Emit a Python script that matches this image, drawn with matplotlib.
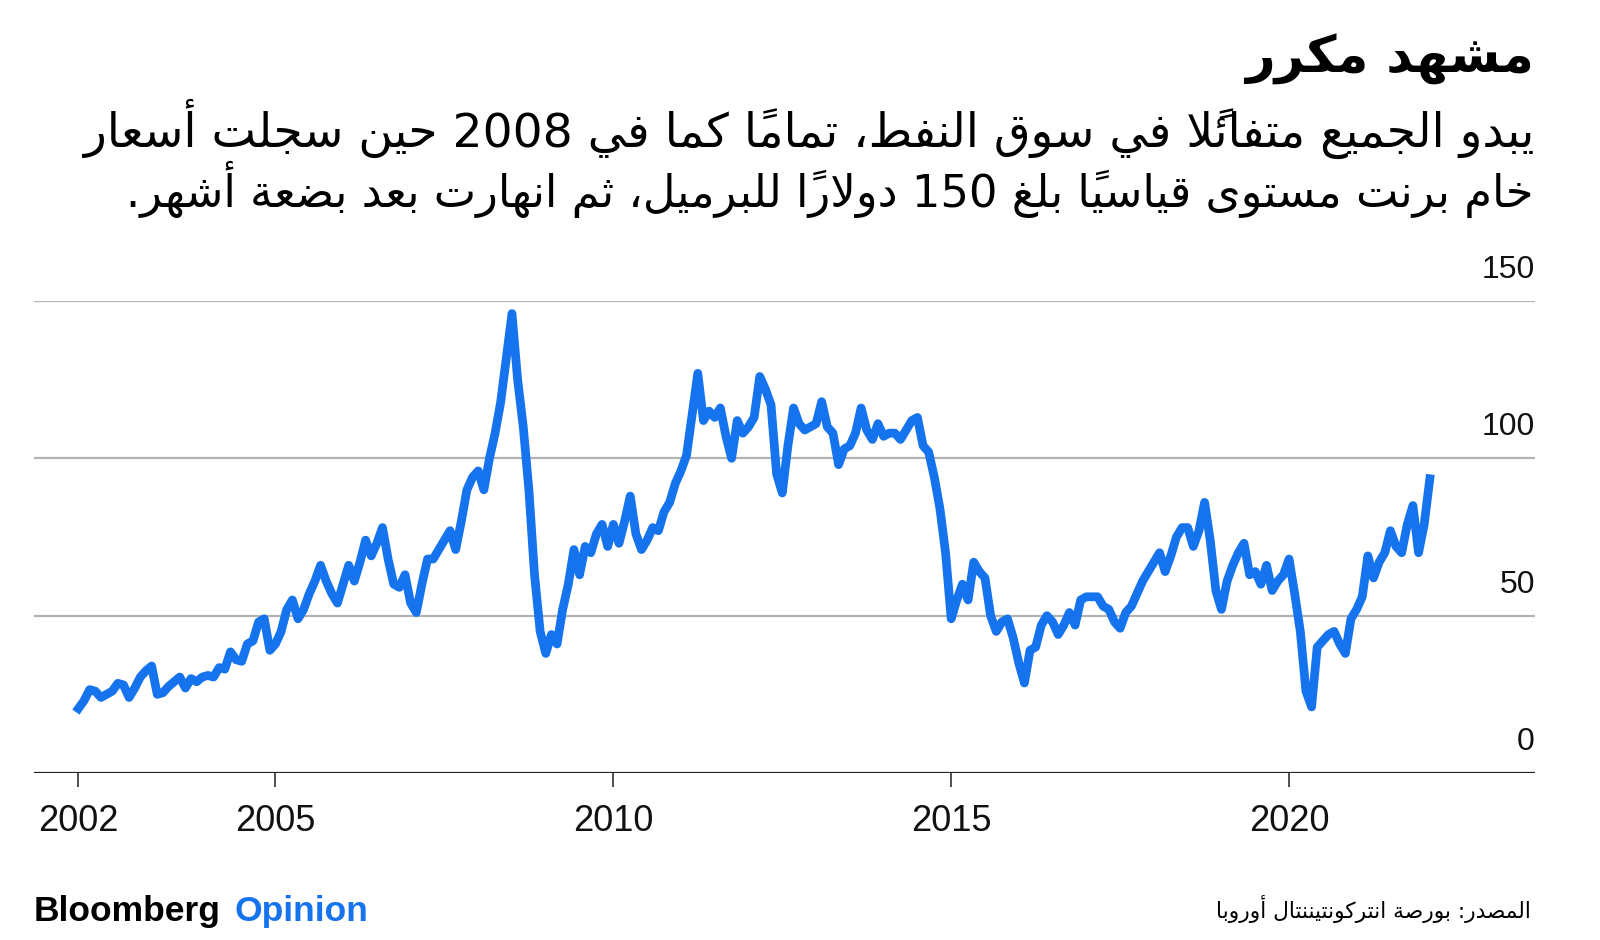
import numpy as np
import matplotlib.pyplot as plt

# Brent crude, USD per barrel, one reading per month, Feb 2002 - Feb 2022
first_month = 2002 + 1 / 12
brent = [
    20.5, 23, 26.5, 26, 24, 25, 26, 28.5, 28, 24, 27,            # 2002 (Feb-Dec)
    30.5, 32.5, 34, 25, 25.5, 27.5, 29, 30.5, 27, 30, 29, 30.5,  # 2003
    31, 30.5, 33.5, 33, 38.5, 36, 35.5, 41, 42, 48, 49, 39,      # 2004
    41, 45, 52, 55, 49, 52, 57, 61, 66, 61, 57, 54,              # 2005
    60, 66, 61, 67, 74, 69, 73, 78, 68, 60, 59, 63,              # 2006
    54, 51, 60, 68, 68, 71, 74, 77, 71, 80, 90, 94,              # 2007
    96, 90, 100, 108, 118, 132, 146, 125, 110, 90, 63, 45,       # 2008
    38, 44, 41, 52, 60, 71, 63, 72, 70, 76, 79, 72,              # 2009
    79, 73, 80, 88, 76, 71, 74, 78, 77, 83, 86, 92,              # 2010
    96, 101, 114, 127, 112, 115, 113, 116, 107, 100, 112, 108,   # 2011
    110, 113, 126, 122, 117, 95, 89, 104, 116, 111, 109, 110,    # 2012
    111, 118, 110, 108, 98, 103, 104, 108, 116, 109, 106, 111,   # 2013
    107, 108, 108, 106, 109, 112, 113, 104, 102, 94, 84, 70,     # 2014
    49, 55, 60, 55, 67, 64, 62, 50, 45, 48, 49, 43,              # 2015
    35, 28.6, 39, 40, 47, 50, 48, 44, 47, 51, 47, 55,            # 2016
    56, 56, 56, 53, 52, 48, 46, 51, 53, 57, 61, 64,              # 2017
    67, 70, 64, 69, 75, 78, 78, 72, 77, 86, 74, 58,              # 2018
    52, 61, 66, 70, 73, 63, 64, 60, 66, 58, 61, 63,              # 2019
    68, 57, 45, 26, 21, 40, 42, 44, 45, 41, 38, 49,              # 2020
    52, 56, 69, 62, 67, 70, 77, 72, 70, 79, 85, 70,              # 2021
    79, 93.5,                                                    # 2022 (Jan-Feb)
]

year_ticks = [first_month, 2005, 2010, 2015, 2020]
year_labels = ["2002", "2005", "2010", "2015", "2020"]
y_ticks = [0, 50, 100, 150]
y_labels = ["0", "50", "100", "150"]

title = "مشهد مكرر"
subtitle_1 = "يبدو الجميع متفائلاً في سوق النفط، تماماً كما في 2008 حين سجلت أسعار"
subtitle_2 = "خام برنت مستوى قياسياً بلغ 150 دولاراً للبرميل، ثم انهارت بعد بضعة أشهر."
source = "المصدر: بورصة انتركونتيننتال أوروبا"

BLUE = "#1673ee"

# --- minimal Arabic shaping (matplotlib has no complex text layout) ---
AR_LETTERS = "ءآأؤإئابةتثجحخدذرزسشصضطظعغفقكلمنهوىي"
AR_NFORMS = [1, 2, 2, 2, 2, 4, 2, 4, 2, 4, 4, 4, 4, 4, 2, 2, 2, 2,
             4, 4, 4, 4, 4, 4, 4, 4, 4, 4, 4, 4, 4, 4, 4, 2, 2, 4]
LAM_ALEF = {"آ": 0xFEF5, "أ": 0xFEF7, "إ": 0xFEF9, "ا": 0xFEFB}

forms = {}
code = 0xFE80
for ch, k in zip(AR_LETTERS, AR_NFORMS):
    forms[ch] = (code, k)
    code += k


def ar(text):
    clusters = []
    for ch in text:
        if "\u064b" <= ch <= "\u0652" and clusters:
            clusters[-1][1] += ch
        else:
            clusters.append([ch, ""])
    merged = []
    for base, marks in clusters:
        if base in LAM_ALEF and merged and merged[-1][0] == "ل" and not merged[-1][1]:
            merged[-1] = ["LA" + base, marks]
        else:
            merged.append([base, marks])

    def dual(b):
        return b in forms and forms[b][1] == 4

    def joins(b):
        return (b in forms and forms[b][1] > 1) or b.startswith("LA")

    glyphs = []
    for i, (b, marks) in enumerate(merged):
        prev = merged[i - 1][0] if i > 0 else ""
        nxt = merged[i + 1][0] if i + 1 < len(merged) else ""
        jp = dual(prev) and joins(b)
        jn = dual(b) and joins(nxt)
        if b.startswith("LA"):
            g = chr(LAM_ALEF[b[2]] + (1 if jp else 0))
        elif b in forms:
            start, k = forms[b]
            if k == 1:
                g = chr(start)
            elif k == 2:
                g = chr(start + (1 if jp else 0))
            else:
                g = chr(start + (3 if jp and jn else 1 if jp else 2 if jn else 0))
        else:
            g = b
        glyphs.append(g + marks)

    tokens = []
    for g in glyphs:
        if g.isdigit() and tokens and tokens[-1].isdigit():
            tokens[-1] += g
        else:
            tokens.append(g)
    return "".join(reversed(tokens))


W, H = 1600, 940
fig = plt.figure(figsize=(W / 100, H / 100), dpi=100)
fig.patch.set_facecolor("white")

ax = fig.add_axes([34 / W, 1 - 773 / H, (1535 - 34) / W, (773 - 301) / H])
x = first_month + np.arange(len(brent)) / 12
ax.plot(x, brent, color=BLUE, lw=6.3, solid_joinstyle="round", zorder=3)

ax.set_ylim(0, 150)
ax.set_xlim(2001.426, 2023.64)
for v in y_ticks[1:]:
    ax.axhline(v, color="#b3b3b3", lw=1.6, zorder=1)
ax.axhline(0, color="#222222", lw=1.6, zorder=2)
for s in ax.spines.values():
    s.set_visible(False)

ax.set_yticks([])
ax.set_xticks(year_ticks)
ax.set_xticklabels(year_labels, fontsize=26, family="Liberation Sans", color="#111111")
ax.tick_params(axis="x", length=10, width=1.2, color="#333333", pad=12)

for v, lab in zip(y_ticks, y_labels):
    ax.annotate(lab, xy=(1, v), xycoords=("axes fraction", "data"),
                xytext=(0, 16.5), textcoords="offset points", ha="right", va="baseline",
                fontsize=23, family="Liberation Sans", color="#111111")

ar_font = ["DejaVu Sans"]
fig.text(1534 / W, 1 - 59 / H, ar(title), ha="right", va="center",
         fontsize=37, fontweight="bold", family=ar_font)
fig.text(1534 / W, 1 - 129 / H, ar(subtitle_1), ha="right", va="center",
         fontsize=34, family=ar_font)
fig.text(1534 / W, 1 - 189 / H, ar(subtitle_2), ha="right", va="center",
         fontsize=32.3, family=ar_font)
fig.text(1531 / W, 1 - 909 / H, ar(source), ha="right", va="center",
         fontsize=15.7, family=ar_font)

fig.text(34 / W, 1 - 911 / H, "Bloomberg", ha="left", va="center",
         fontsize=25.5, fontweight="bold", family="Liberation Sans", color="black")
fig.text(235 / W, 1 - 911 / H, "Opinion", ha="left", va="center",
         fontsize=25.5, fontweight="bold", family="Liberation Sans", color=BLUE)

fig.savefig("out.png", dpi=100, facecolor="white")
